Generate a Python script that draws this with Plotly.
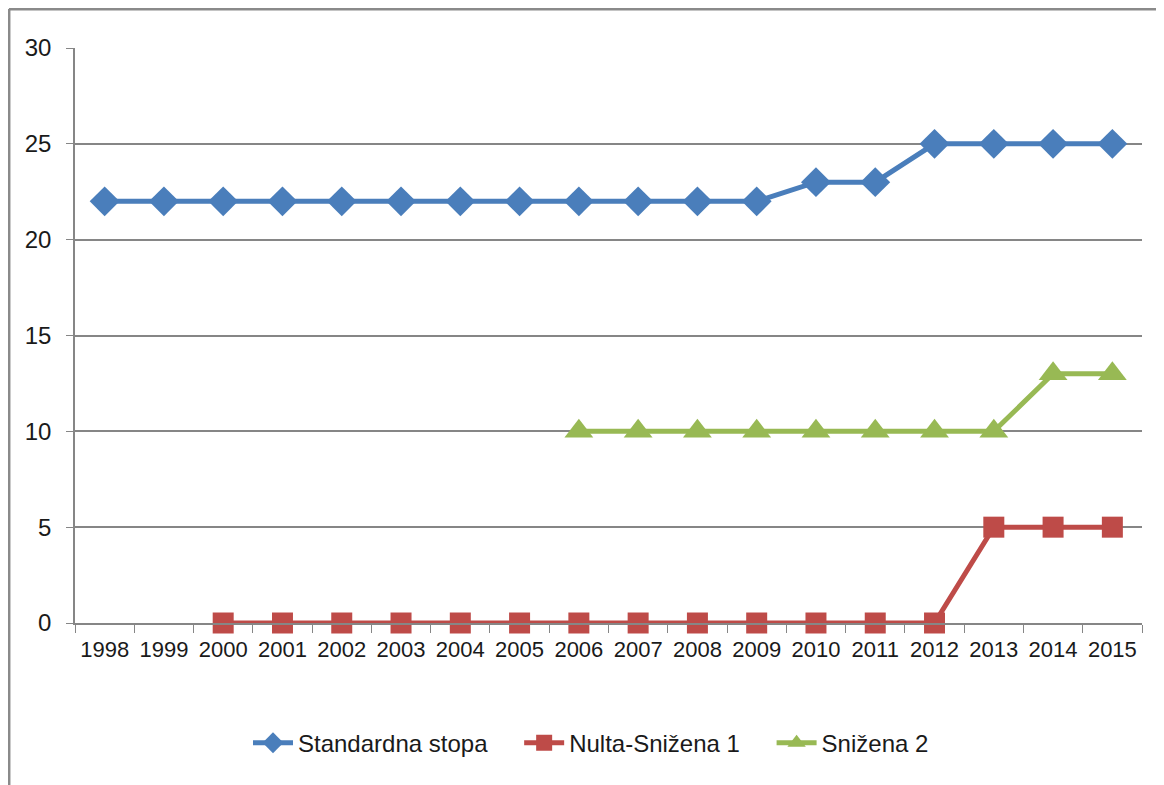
import plotly.graph_objects as go

years = [str(y) for y in range(1998, 2016)]
standardna = [22, 22, 22, 22, 22, 22, 22, 22, 22, 22, 22, 22, 23, 23, 25, 25, 25, 25]
nulta = [None, None, 0, 0, 0, 0, 0, 0, 0, 0, 0, 0, 0, 0, 0, 5, 5, 5]
snizena2 = [None] * 8 + [10, 10, 10, 10, 10, 10, 10, 10, 13, 13]
y_ticks = [0, 5, 10, 15, 20, 25, 30]
series_names = ["Standardna stopa", "Nulta-Snižena 1", "Snižena 2"]

FONT = "Liberation Sans, Arial, sans-serif"
PAD = "\u00a0" * 4

fig = go.Figure()
fig.add_trace(go.Scatter(x=years, y=standardna, name=series_names[0] + PAD, mode="lines+markers",
                         line=dict(color="#4A7EBB", width=5), cliponaxis=False,
                         marker=dict(symbol="diamond", size=23, color="#4A7EBB")))
fig.add_trace(go.Scatter(x=years, y=nulta, name=series_names[1] + PAD, mode="lines+markers",
                         line=dict(color="#BE4B48", width=5), cliponaxis=False,
                         marker=dict(symbol="square", size=21, color="#BE4B48")))
fig.add_trace(go.Scatter(x=years, y=snizena2, name=series_names[2], mode="lines+markers",
                         line=dict(color="#98B954", width=5), cliponaxis=False,
                         marker=dict(symbol="triangle-up", size=25, color="#98B954")))

# page has an 8px body margin, so the figure is sized/positioned to compensate
fig.update_layout(
    width=1148, height=777,
    margin=dict(l=67, r=14, t=40, b=162),
    paper_bgcolor="white", plot_bgcolor="white",
    font=dict(family=FONT, size=22, color="#1a1a1a"),
    showlegend=True,
    legend=dict(orientation="h", x=0.4836, xanchor="center", y=-0.209, yanchor="middle",
                font=dict(family=FONT, size=24), tracegroupgap=0, itemwidth=40),
    xaxis=dict(type="category", range=[-0.5, 17.5], showgrid=False,
               showline=True, linecolor="#868686", linewidth=1.5,
               ticks="outside", ticklen=8, tickcolor="#868686", tickson="boundaries",
               tickangle=0, automargin=False,
               tickfont=dict(family=FONT, size=22), ticklabelstandoff=6, fixedrange=True),
    yaxis=dict(range=[0, 30], tickvals=y_ticks, showgrid=True, gridcolor="#868686", gridwidth=1.5,
               showline=True, linecolor="#868686", linewidth=1.5, zeroline=False,
               ticks="outside", ticklen=7, tickcolor="#868686", automargin=False,
               tickfont=dict(family=FONT, size=24), ticklabelstandoff=10, fixedrange=True),
)

# outer chart border (left and top edges visible)
fig.add_shape(type="line", xref="paper", yref="paper", x0=-0.0619, x1=1.03, y0=1.0678, y1=1.0678,
              line=dict(color="#8a8a8a", width=3), layer="above")
fig.add_shape(type="line", xref="paper", yref="paper", x0=-0.0619, x1=-0.0619, y0=1.0678, y1=-0.40,
              line=dict(color="#8a8a8a", width=3), layer="above")

fig.write_html("out.html")
